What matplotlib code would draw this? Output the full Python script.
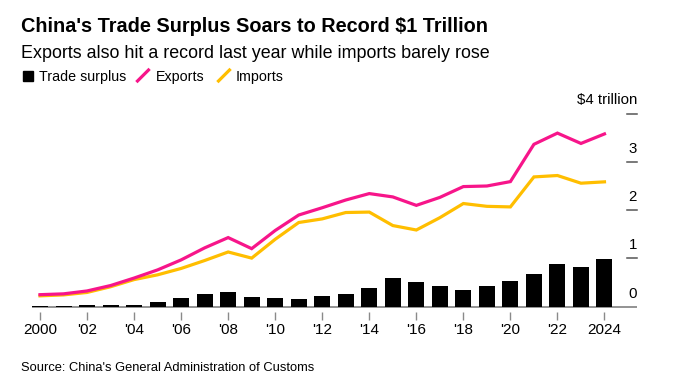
import matplotlib
matplotlib.use("Agg")
import matplotlib.pyplot as plt
import matplotlib.transforms as mtransforms

plt.rcParams['font.family'] = ['Liberation Sans', 'DejaVu Sans']

years = list(range(2000, 2025))
surplus = [0.024, 0.023, 0.030, 0.025, 0.032, 0.102, 0.177, 0.262, 0.298, 0.196,
           0.181, 0.155, 0.230, 0.259, 0.383, 0.594, 0.510, 0.420, 0.351, 0.421,
           0.524, 0.676, 0.878, 0.823, 0.992]
exports = [0.249, 0.266, 0.326, 0.438, 0.593, 0.762, 0.969, 1.218, 1.431, 1.202,
           1.578, 1.898, 2.049, 2.209, 2.342, 2.273, 2.098, 2.263, 2.487, 2.499,
           2.590, 3.362, 3.594, 3.380, 3.577]
imports = [0.225, 0.244, 0.295, 0.413, 0.561, 0.660, 0.792, 0.956, 1.133, 1.006,
           1.396, 1.743, 1.818, 1.950, 1.959, 1.680, 1.588, 1.843, 2.136, 2.078,
           2.066, 2.687, 2.716, 2.557, 2.585]
xtick_years = list(range(2000, 2025, 2))
xtick_labels = ["2000", "'02", "'04", "'06", "'08", "'10", "'12", "'14", "'16",
                "'18", "'20", "'22", "2024"]
ytick_vals = [0, 1, 2, 3, 4]
ytick_labels = ["0", "1", "2", "3", "$4 trillion"]

PINK = '#F7158A'
YELLOW = '#FFBE00'

W, H = 678, 391
fig = plt.figure(figsize=(W / 100, H / 100), dpi=100)
fig.patch.set_facecolor('white')

def fy(px):
    return 1 - px / H

# axes in pixel geometry
left_px, right_px = 31.7, 637.0
top_px, bottom_px = 100.0, 312.0
ax = fig.add_axes([left_px / W, 1 - bottom_px / H, (right_px - left_px) / W, (bottom_px - top_px) / H])

px_per_year = 23.52
x0_px = 40.0
ax.set_xlim(2000 - (x0_px - left_px) / px_per_year, 2000 + (right_px - x0_px) / px_per_year)
px_per_unit = 48.3
zero_px = 306.7
ax.set_ylim(-(bottom_px - zero_px) / px_per_unit, (zero_px - top_px) / px_per_unit)

for s in ax.spines.values():
    s.set_visible(False)
ax.set_facecolor('none')

# baseline
ax.axhline(0, color='#8a8a8a', lw=1.3, zorder=1)

ax.bar(years, surplus, width=0.68, color='black', zorder=2)
ax.plot(years, imports, color=YELLOW, lw=2.3, zorder=3, solid_joinstyle='miter')
ax.plot(years, exports, color=PINK, lw=2.3, zorder=4, solid_joinstyle='miter')

ax.set_xticks(xtick_years)
ax.set_xticklabels(xtick_labels, fontsize=11, color='black')
ax.tick_params(axis='x', length=5.5, width=1, color='#8a8a8a', pad=2.5)
ax.set_yticks([])

# right-side y ticks (short dashes with labels above)
trans = mtransforms.blended_transform_factory(ax.transAxes, ax.transData)
dash_x0 = (627 - left_px) / (right_px - left_px)
for v, lab in zip(ytick_vals, ytick_labels):
    if v != 0:
        ax.plot([dash_x0, 1.0], [v, v], transform=trans, color='#555555', lw=1.1,
                clip_on=False, zorder=1)
    ax.text(1.0, v + 9.2 / px_per_unit, lab, transform=trans, ha='right', va='baseline',
            fontsize=10.8, color='black')

# titles
fig.text(21 / W, fy(31.7), "China's Trade Surplus Soars to Record $1 Trillion",
         fontsize=14.3, fontweight='bold', ha='left', va='baseline')
fig.text(21 / W, fy(57.7), "Exports also hit a record last year while imports barely rose",
         fontsize=12.9, ha='left', va='baseline')

# legend
ly = fy(80.7)
fig.patches.append(plt.Rectangle((23 / W, fy(80.5)), 9.5 / W, 9.5 / H,
                                 transform=fig.transFigure, color='black'))
fig.text(39 / W, ly, "Trade surplus", fontsize=10.3, ha='left', va='baseline')
fig.lines.append(plt.Line2D([137.5 / W, 148.5 / W], [fy(81), fy(70)],
                            transform=fig.transFigure, color=PINK, lw=2.3))
fig.text(156 / W, ly, "Exports", fontsize=10.3, ha='left', va='baseline')
fig.lines.append(plt.Line2D([218.5 / W, 229.5 / W], [fy(81), fy(70)],
                            transform=fig.transFigure, color=YELLOW, lw=2.3))
fig.text(236 / W, ly, "Imports", fontsize=10.3, ha='left', va='baseline')

fig.text(21 / W, fy(371), "Source: China's General Administration of Customs",
         fontsize=9.3, ha='left', va='baseline')

fig.savefig('out.png', dpi=100, facecolor='white')
